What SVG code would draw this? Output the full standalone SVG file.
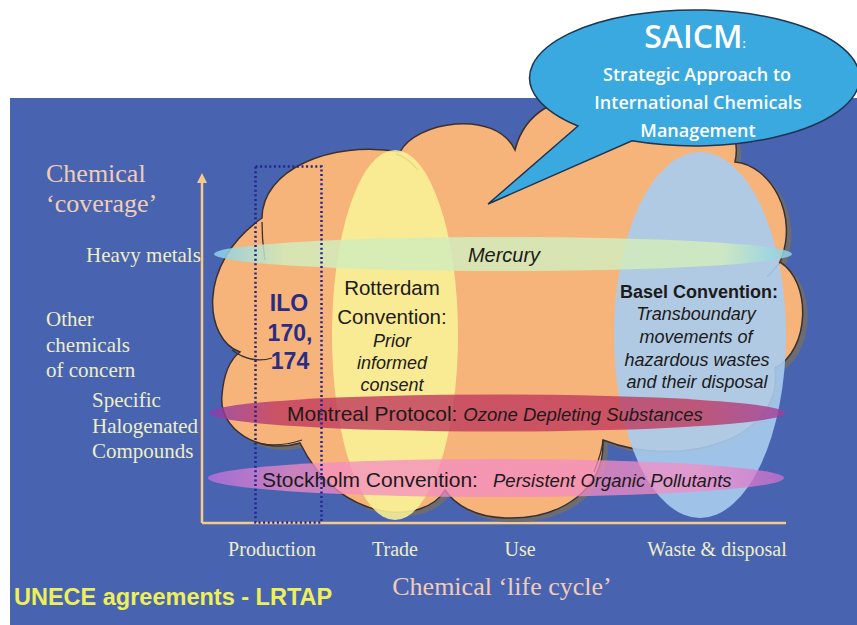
<svg xmlns="http://www.w3.org/2000/svg" width="857" height="625" viewBox="0 0 857 625">
<style>
.lbl{font-family:"Liberation Serif","Times New Roman",serif;font-size:21px;fill:#eeeec8}
.ttl{font-family:"Liberation Serif","Times New Roman",serif;font-size:26px;fill:#f2ccb8}
.ax{font-family:"Liberation Serif","Times New Roman",serif;font-size:20px;fill:#eeeec8;text-anchor:middle}
.sans{font-family:"Liberation Sans",Arial,sans-serif;fill:#1c1a1a}
.it{font-style:italic}
.ctr{text-anchor:middle}
.tail{fill:none;stroke:#3a3030;stroke-width:1.3}
.saicm{font-family:"Open Sans","Liberation Sans",sans-serif;fill:#ffffff;text-anchor:middle;font-weight:600}
</style>
<defs>
<linearGradient id="gMer" x1="0" x2="1" y1="0" y2="0">
<stop offset="0" stop-color="#86cfee"/><stop offset="0.12" stop-color="#d2ecbc"/><stop offset="0.88" stop-color="#d2ecbc"/><stop offset="1" stop-color="#86cfee"/>
</linearGradient>
<linearGradient id="gMon" x1="0" x2="1" y1="0" y2="0">
<stop offset="0" stop-color="#8c3cb0"/><stop offset="0.12" stop-color="#c03a5e"/><stop offset="0.85" stop-color="#c03a5e"/><stop offset="1" stop-color="#a03c9a"/>
</linearGradient>
<linearGradient id="gSto" x1="0" x2="1" y1="0" y2="0">
<stop offset="0" stop-color="#c070e0"/><stop offset="0.15" stop-color="#f48cc4"/><stop offset="0.85" stop-color="#f48cc4"/><stop offset="1" stop-color="#d070d0"/>
</linearGradient>
<marker id="arr" viewBox="0 0 10 10" refX="5" refY="5" markerWidth="4" markerHeight="4" orient="auto">
<path d="M0,0 L10,5 L0,10 Z" fill="#f5c88e"/>
</marker>
<path id="cloudShape" d="M262,218 C262,170 330,140 400,152 C415,122 495,108 515,150 C525,110 560,95 600,95 L700,100 C730,110 740,140 735,162 C770,165 800,215 780,262 C812,282 810,350 775,368 C785,440 680,470 603,440 C605,490 560,520 505,518 C475,517 455,505 445,490 C425,525 340,525 300,443 C260,455 218,430 222,395 C224,370 232,358 240,352 C205,340 195,265 262,218 Z"/>
</defs>

<rect x="0" y="0" width="857" height="625" fill="#ffffff"/>
<rect id="background" x="10" y="98" width="847" height="527" fill="#4864b0"/>

<g id="axes" stroke="#f5c88e" stroke-width="2.5" fill="none">
<line x1="202" y1="523" x2="202" y2="178" marker-end="url(#arr)"/>
<line x1="202" y1="523" x2="786" y2="523"/>
</g>

<g id="cloud">
<use href="#cloudShape" transform="translate(5,4)" fill="#6c6c74"/>
<use href="#cloudShape" fill="#f7b47a" stroke="#3a3030" stroke-width="1.5"/>
<path class="tail" d="M232,350 C245,360 260,362 272,358"/>
<path class="tail" d="M262,444 C275,446 290,444 302,440"/>
<path class="tail" d="M396,154 C405,156 412,163 418,170"/>
<path class="tail" d="M780,262 C776,268 772,272 767,277"/>
<path class="tail" d="M603,440 C602,452 598,462 594,472"/>
<path class="tail" d="M262,222 C262,235 263,248 265,260"/>
</g>

<g id="rotterdam-ellipse"><ellipse cx="395" cy="335" rx="63" ry="185" fill="#f9f296" fill-opacity="0.88"/></g>
<g id="basel-ellipse"><ellipse cx="700" cy="335" rx="86" ry="183" fill="#a9ccef" fill-opacity="0.9"/></g>
<g id="mercury"><ellipse cx="503" cy="254" rx="289" ry="17" fill="url(#gMer)" fill-opacity="0.85"/>
<text class="sans it ctr" x="504" y="262" font-size="20">Mercury</text></g>
<g id="montreal"><ellipse cx="497" cy="413" rx="288" ry="18.5" fill="url(#gMon)" fill-opacity="0.8"/>
<text class="sans" x="287" y="421"><tspan font-size="21">Montreal Protocol: </tspan><tspan class="it" font-size="18.5">Ozone Depleting Substances</tspan></text></g>
<g id="stockholm"><ellipse cx="496" cy="478" rx="288" ry="19" fill="url(#gSto)" fill-opacity="0.75"/>
<text class="sans" x="262" y="487" font-size="21">Stockholm Convention:</text>
<text class="sans it" x="493" y="487" font-size="18.5">Persistent Organic Pollutants</text></g>

<g id="rotterdam-text">
<text class="sans ctr" x="392" y="295" font-size="20.5">Rotterdam</text>
<text class="sans ctr" x="392" y="324" font-size="20.5">Convention:</text>
<text class="sans it ctr" x="392" y="347" font-size="18">Prior</text>
<text class="sans it ctr" x="392" y="369" font-size="18">informed</text>
<text class="sans it ctr" x="392" y="391" font-size="18">consent</text>
</g>

<g id="basel-text">
<text class="sans ctr" x="699" y="298" font-size="18" font-weight="bold">Basel Convention:</text>
<text class="sans it ctr" x="696" y="320" font-size="18">Transboundary</text>
<text class="sans it ctr" x="696" y="343" font-size="18">movements of</text>
<text class="sans it ctr" x="697" y="366" font-size="18">hazardous wastes</text>
<text class="sans it ctr" x="697" y="388" font-size="18">and their disposal</text>
</g>

<g id="ilo">
<rect x="255.5" y="166.5" width="66" height="356" fill="none" stroke="#24248c" stroke-width="2.5" stroke-dasharray="2 2.6"/>
<text class="sans ctr" x="289" y="311" font-size="23" font-weight="bold" fill="#2a2c86" style="fill:#2a2c86">ILO</text>
<text class="sans ctr" x="290" y="341" font-size="23" font-weight="bold" style="fill:#2a2c86">170,</text>
<text class="sans ctr" x="290" y="369" font-size="23" font-weight="bold" style="fill:#2a2c86">174</text>
</g>

<g id="y-labels">
<text class="ttl" x="46" y="182">Chemical</text>
<text class="ttl" x="46" y="212">‘coverage’</text>
<text class="lbl" x="86" y="262">Heavy metals</text>
<text class="lbl" x="46" y="326">Other</text>
<text class="lbl" x="46" y="352">chemicals</text>
<text class="lbl" x="46" y="377">of concern</text>
<text class="lbl" x="92" y="407">Specific</text>
<text class="lbl" x="92" y="433">Halogenated</text>
<text class="lbl" x="92" y="458">Compounds</text>
</g>

<g id="x-labels">
<text class="ax" x="272" y="556">Production</text>
<text class="ax" x="395" y="556">Trade</text>
<text class="ax" x="520" y="556">Use</text>
<text class="ax" x="717" y="556">Waste &amp; disposal</text>
<text class="ttl" x="502" y="595" text-anchor="middle">Chemical ‘life cycle’</text>
</g>

<g id="unece"><text x="14" y="605" font-family="Liberation Sans,Arial,sans-serif" font-weight="bold" font-size="23.5" fill="#eef05a">UNECE agreements - LRTAP</text></g>

<g id="saicm">
<path d="M578,126 L488,204 L632,140.8 A165,68 0 1 0 578,126 Z" fill="#3aa9e0" stroke="#1e3450" stroke-width="1.5"/>
<text class="saicm" x="695" y="48" font-size="32" font-weight="500">SAICM<tspan font-size="12">:</tspan></text>
<text class="saicm" x="697" y="81" font-size="18">Strategic Approach to</text>
<text class="saicm" x="698" y="109" font-size="18">International Chemicals</text>
<text class="saicm" x="698" y="137" font-size="18">Management</text>
</g>
</svg>
